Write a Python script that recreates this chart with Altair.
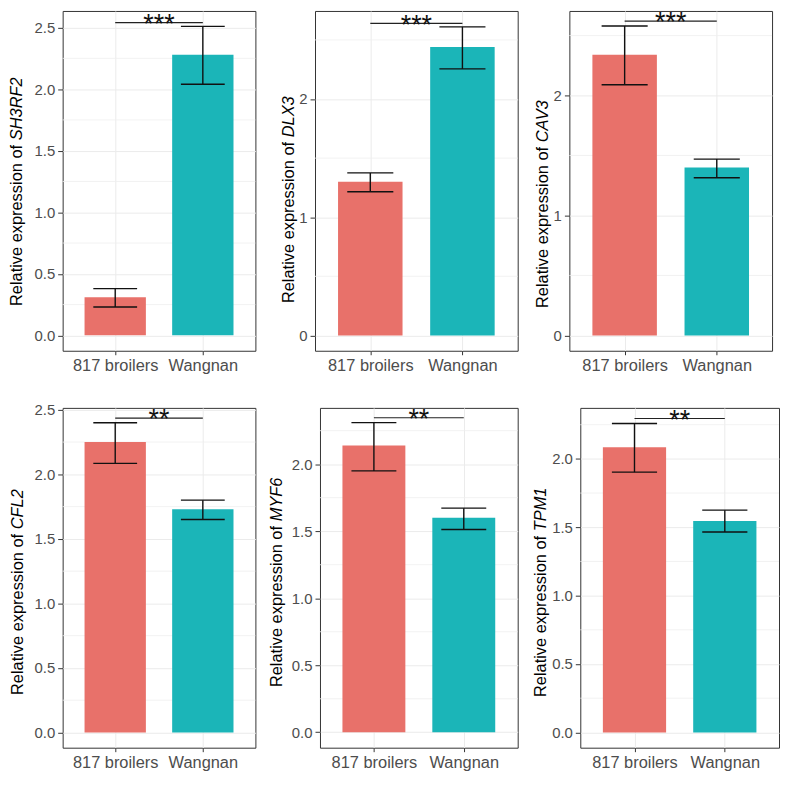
import altair as alt
import pandas as pd

FONT = "Liberation Sans"

groups = ["817 broilers", "Wangnan"]
positions = [1, 2]
colors = ["#E8716A", "#1BB5B8"]

genes = ["SH3RF2", "DLX3", "CAV3", "CFL2", "MYF6", "TPM1"]
means = [[0.31, 2.28], [1.30, 2.44], [2.34, 1.40], [2.25, 1.73], [2.14, 1.60], [2.085, 1.545]]
err_low = [[0.23, 2.04], [1.215, 2.255], [2.09, 1.315], [2.085, 1.65], [1.95, 1.513], [1.903, 1.465]]
err_high = [[0.38, 2.51], [1.375, 2.61], [2.58, 1.47], [2.40, 1.80], [2.31, 1.672], [2.259, 1.625]]
sig_labels = ["***", "***", "***", "**", "**", "**"]
sig_y = [2.54, 2.64, 2.62, 2.436, 2.347, 2.295]

y_domains = [[-0.125, 2.635], [-0.13, 2.745], [-0.128, 2.705],
             [-0.118, 2.515], [-0.115, 2.42], [-0.112, 2.373]]
major_ticks = [[0, 0.5, 1, 1.5, 2, 2.5], [0, 1, 2], [0, 1, 2],
               [0, 0.5, 1, 1.5, 2, 2.5], [0, 0.5, 1, 1.5, 2], [0, 0.5, 1, 1.5, 2]]
minor_ticks = [[0.25, 0.75, 1.25, 1.75, 2.25], [0.5, 1.5, 2.5], [0.5, 1.5, 2.5],
               [0.25, 0.75, 1.25, 1.75, 2.25], [0.25, 0.75, 1.25, 1.75, 2.25],
               [0.25, 0.75, 1.25, 1.75, 2.25]]
tick_formats = [".1f", "d", "d", ".1f", ".1f", ".1f"]

# layout (pixels)
widths = [194, 204, 204, 194, 199, 200]
HEIGHT = 342
title_x = [-41, -21, -22, -40, -38, -35]
title_start = [297, 294, 299, 289, 281, 291]
TITLE_FS = 16.5
TITLE_PLAIN = "Relative expression of"
STAR_FS = 27
STAR_DY = 10.3

# Arial / Liberation Sans advance widths (1/1000 em)
CW = {"R": 722, "e": 556, "l": 222, "a": 556, "t": 278, "i": 222, "v": 500, " ": 278,
      "x": 500, "p": 556, "r": 333, "s": 500, "o": 556, "n": 556, "f": 278}


def text_width(s, fs):
    return sum(CW.get(c, 556) for c in s) * fs / 1000.0


def panel(i):
    df = pd.DataFrame({"group": groups, "pos": positions, "mean": means[i],
                       "lo": err_low[i], "hi": err_high[i]})
    x_scale = alt.Scale(domain=[0.4, 2.6], nice=False, zero=False)
    y_scale = alt.Scale(domain=y_domains[i], nice=False, zero=False)
    x_axis = alt.Axis(values=positions,
                      labelExpr=f"datum.value == 1 ? '{groups[0]}' : '{groups[1]}'",
                      title=None, grid=True, gridColor="#EBEBEB", gridWidth=1,
                      domain=False, tickColor="#333333", tickSize=4, tickWidth=1,
                      labelPadding=3, labelFontSize=16.5, labelColor="#4D4D4D",
                      labelFont=FONT, labelFlush=False, labelOverlap=False)
    y_axis = alt.Axis(values=major_ticks[i], format=tick_formats[i], title=None,
                      grid=True, gridColor="#EBEBEB", gridWidth=1, domain=False,
                      tickColor="#333333", tickSize=5, tickWidth=1, labelPadding=3,
                      labelFontSize=15, labelColor="#4D4D4D", labelFont=FONT,
                      labelFlush=False, labelOverlap=False)

    minor = alt.Chart(pd.DataFrame({"v": minor_ticks[i]})).mark_rule(
        color="#EFEFEF", strokeWidth=0.8
    ).encode(y=alt.Y("v:Q", scale=y_scale, axis=y_axis))

    base = alt.Chart(df)
    bars = base.transform_calculate(
        x1="datum.pos - 0.35", x2="datum.pos + 0.35"
    ).mark_bar().encode(
        x=alt.X("x1:Q", scale=x_scale, axis=x_axis),
        x2="x2:Q",
        y=alt.Y("mean:Q", scale=y_scale, axis=y_axis),
        y2=alt.datum(0),
        color=alt.Color("group:N", scale=alt.Scale(domain=groups, range=colors), legend=None),
    )
    stems = base.mark_rule(color="#111111", strokeWidth=1.4).encode(
        x=alt.X("pos:Q", scale=x_scale, axis=x_axis),
        y=alt.Y("lo:Q", scale=y_scale, axis=y_axis),
        y2="hi:Q",
    )
    caps = base.transform_fold(["lo", "hi"], as_=["end", "val"]).transform_calculate(
        c1="datum.pos - 0.25", c2="datum.pos + 0.25"
    ).mark_rule(color="#111111", strokeWidth=1.4).encode(
        x=alt.X("c1:Q", scale=x_scale, axis=x_axis),
        x2="c2:Q",
        y=alt.Y("val:Q", scale=y_scale, axis=y_axis),
    )
    sig_df = pd.DataFrame({"a": [positions[0]], "b": [positions[1]],
                           "mid": [(positions[0] + positions[1]) / 2],
                           "y": [sig_y[i]], "lab": [sig_labels[i]]})
    sig_line = alt.Chart(sig_df).mark_rule(color="#222222", strokeWidth=1.1).encode(
        x=alt.X("a:Q", scale=x_scale, axis=x_axis),
        x2="b:Q",
        y=alt.Y("y:Q", scale=y_scale, axis=y_axis),
    )
    sig_text = alt.Chart(sig_df).mark_text(
        fontSize=STAR_FS, font=FONT, baseline="alphabetic", dy=STAR_DY, color="#111111"
    ).encode(
        x=alt.X("mid:Q", scale=x_scale, axis=x_axis),
        y=alt.Y("y:Q", scale=y_scale, axis=y_axis),
        text="lab:N",
    )
    tdf = pd.DataFrame({"plain": [TITLE_PLAIN], "gene": [genes[i]]})
    plain_w = text_width(TITLE_PLAIN + " ", TITLE_FS)
    t_plain = alt.Chart(tdf).mark_text(
        angle=270, align="left", baseline="alphabetic", fontSize=TITLE_FS,
        font=FONT, color="#000000"
    ).encode(x=alt.value(title_x[i]), y=alt.value(title_start[i]), text="plain:N")
    t_gene = alt.Chart(tdf).mark_text(
        angle=270, align="left", baseline="alphabetic", fontSize=TITLE_FS,
        font=FONT, fontStyle="italic", color="#000000"
    ).encode(x=alt.value(title_x[i]), y=alt.value(title_start[i] - plain_w), text="gene:N")

    return alt.layer(minor, bars, stems, caps, sig_line, sig_text, t_plain, t_gene).properties(
        width=widths[i], height=HEIGHT
    )


p = [panel(i) for i in range(6)]
row1 = alt.hconcat(alt.hconcat(p[0], p[1], spacing=24), p[2], spacing=15)
row2 = alt.hconcat(alt.hconcat(p[3], p[4], spacing=12), p[5], spacing=13)
chart = alt.vconcat(row1, row2, spacing=27.5).properties(
    padding={"left": 0, "top": -1.5, "right": 0, "bottom": 0}
).configure_view(stroke="#333333", strokeWidth=1)

chart.save("out.html", embed_options={"renderer": "svg", "actions": False})
